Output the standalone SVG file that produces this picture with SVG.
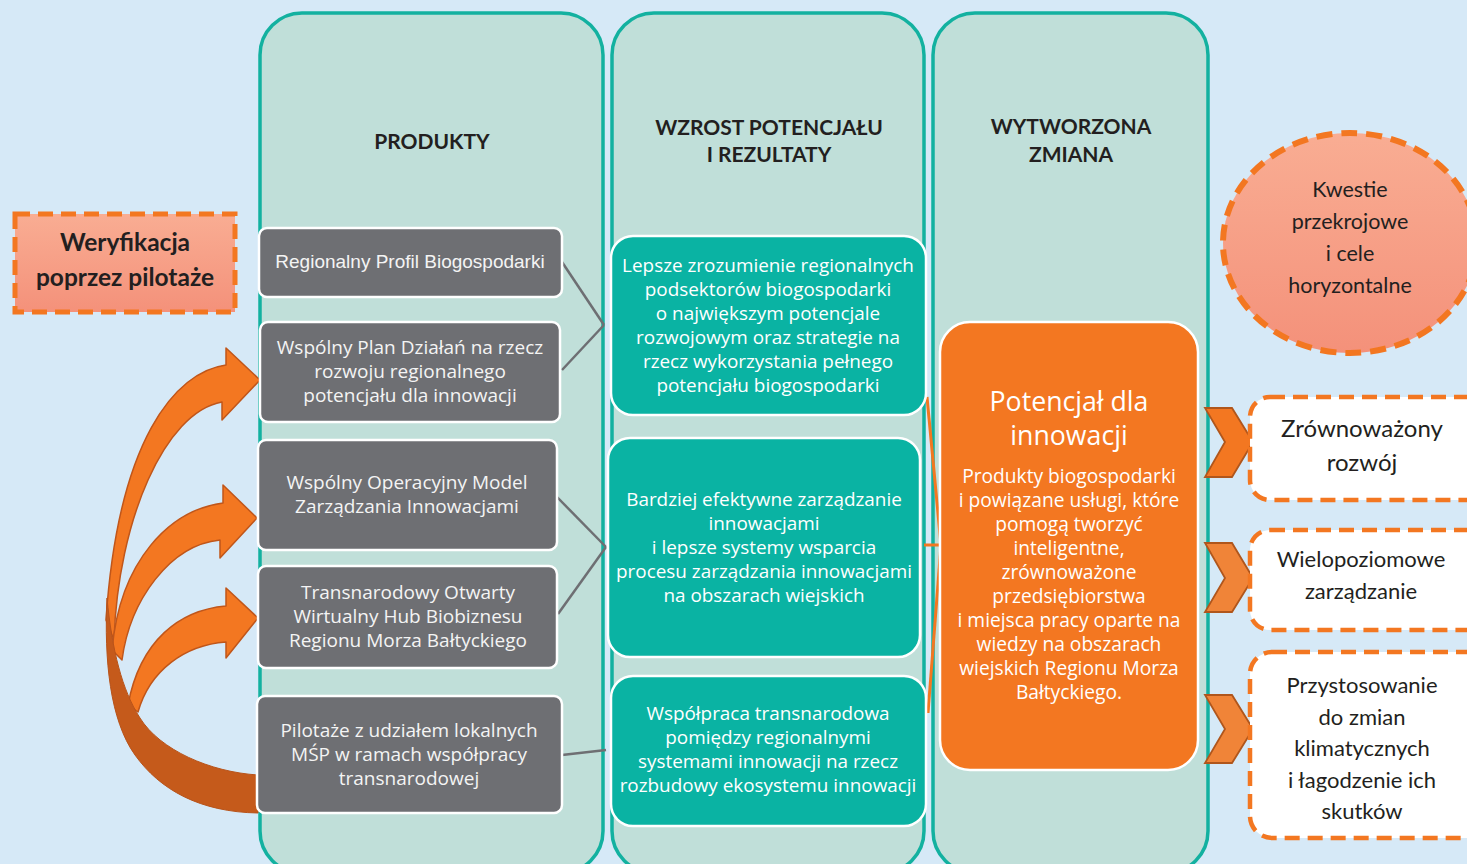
<svg xmlns="http://www.w3.org/2000/svg" width="1467" height="864" viewBox="0 0 1467 864">
<defs>
<linearGradient id="salmon" x1="0" y1="0" x2="0" y2="1">
<stop offset="0" stop-color="#f9ad93"/>
<stop offset="1" stop-color="#f4917a"/>
</linearGradient>
<style>
.col{fill:#c0dfd9;stroke:#13b1a0;stroke-width:3.5}
.gbox{fill:#6e6f73;stroke:#ffffff;stroke-width:2.5}
.tbox{fill:#0ab3a3;stroke:#ffffff;stroke-width:2.5}
.obox{fill:#f37721;stroke:#ffffff;stroke-width:2.5}
.dbox{fill:#ffffff;stroke:#f37721;stroke-width:4.5;stroke-dasharray:15 8}
.title{font-family:Lato,"Liberation Sans",sans-serif;font-weight:bold;font-size:21px;fill:#231f20;text-anchor:middle}
.gt{font-family:"Open Sans","Liberation Sans",sans-serif;font-size:19px;fill:#f4f4f4;text-anchor:middle}
.ga{font-family:"Liberation Sans",Arial,sans-serif;font-size:19px;fill:#f4f4f4;text-anchor:middle}
.tt{font-family:"Open Sans","Liberation Sans",sans-serif;font-size:18.9px;fill:#ffffff;text-anchor:middle}
.ot{font-family:"Open Sans","Liberation Sans",sans-serif;font-size:19.2px;fill:#ffffff;text-anchor:middle}
.oh{font-family:"Open Sans","Liberation Sans",sans-serif;font-size:26.7px;fill:#ffffff;text-anchor:middle}
.cal{font-family:Lato,"Liberation Sans",sans-serif;fill:#231f20;text-anchor:middle}
.wer{font-size:24.5px;font-weight:bold}
.kw{font-size:21.5px}
.r22{font-size:22px}
.r24{font-size:24px}
.arr{fill:#f37721;stroke:#c0561a;stroke-width:1.5;stroke-linejoin:round}
.chev{stroke:#b0561c;stroke-width:1.8;stroke-linejoin:miter}
.gl{stroke:#6e6f73;stroke-width:2.5;fill:none}
.ol{stroke:#f37721;stroke-width:3;fill:none}
</style>
</defs>
<rect x="0" y="0" width="1467" height="864" fill="#d6e9f7"/>

<g id="columns">
<rect class="col" x="260" y="13" width="343" height="860" rx="42"/>
<rect class="col" x="612" y="13" width="312" height="860" rx="42"/>
<rect class="col" x="933" y="13" width="275" height="860" rx="42"/>
<text class="title" x="432" y="149">PRODUKTY</text>
<text class="title" x="769" y="135">WZROST POTENCJAŁU</text>
<text class="title" x="769" y="162">I REZULTATY</text>
<text class="title" x="1071" y="134">WYTWORZONA</text>
<text class="title" x="1071" y="162">ZMIANA</text>
</g>

<g id="curved-arrows">
<path class="arr" d="M260 380 L226 348 L226 365 C175 372 118 440 106 620 L114 640 C118 520 165 412 222 402 L222 420 Z"/>
<path class="arr" d="M257 518 L223 485 L223 503 C170 510 120 560 112 650 L122 660 C130 600 170 545 220 540 L220 558 Z"/>
<path class="arr" d="M258 618 L226 588 L226 606 C180 610 140 640 128 705 L138 712 C150 670 185 645 226 642 L226 658 Z"/>
<path fill="#c55a1b" stroke="#b8531a" stroke-width="1" d="M258 775 C210 772 160 750 140 718 C122 690 112 650 107 598 C104 660 110 720 135 755 C160 790 200 812 258 813 Z"/>
</g>

<g id="connectors">
<line class="gl" x1="562" y1="262" x2="604" y2="325"/>
<line class="gl" x1="562" y1="370" x2="604" y2="325"/>
<line class="gl" x1="557" y1="497" x2="606" y2="547"/>
<line class="gl" x1="558" y1="614" x2="606" y2="547"/>
<line class="gl" x1="562" y1="755" x2="606" y2="750"/>
<line class="ol" x1="927" y1="397" x2="941" y2="545"/>
<line class="ol" x1="928" y1="713" x2="941" y2="545"/>
<line class="ol" x1="924" y1="545" x2="941" y2="545" stroke-width="4"/>
</g>

<g id="weryfikacja">
<rect x="15" y="214" width="220" height="98" fill="url(#salmon)" stroke="#f37721" stroke-width="5" stroke-dasharray="15 8"/>
<text class="cal wer" x="125" y="251">Weryfikacja</text>
<text class="cal wer" x="125" y="286">poprzez pilotaże</text>
</g>

<g id="p1">
<rect class="gbox" x="259" y="228" width="303" height="69" rx="8"/>
<text class="ga" x="410" y="268">Regionalny Profil Biogospodarki</text>
</g>
<g id="p2">
<rect class="gbox" x="260" y="322" width="300" height="100" rx="8"/>
<text class="gt" x="410" y="354">Wspólny Plan Działań na rzecz</text>
<text class="gt" x="410" y="378">rozwoju regionalnego</text>
<text class="gt" x="410" y="402">potencjału dla innowacji</text>
</g>
<g id="p3">
<rect class="gbox" x="258" y="440" width="299" height="110" rx="8"/>
<text class="gt" x="407" y="489">Wspólny Operacyjny Model</text>
<text class="gt" x="407" y="513">Zarządzania Innowacjami</text>
</g>
<g id="p4">
<rect class="gbox" x="258" y="566" width="299" height="102" rx="8"/>
<text class="gt" x="408" y="599">Transnarodowy Otwarty</text>
<text class="gt" x="408" y="623">Wirtualny Hub Biobiznesu</text>
<text class="gt" x="408" y="647">Regionu Morza Bałtyckiego</text>
</g>
<g id="p5">
<rect class="gbox" x="257" y="696" width="305" height="117" rx="8"/>
<text class="gt" x="409" y="737">Pilotaże z udziałem lokalnych</text>
<text class="gt" x="409" y="761">MŚP w ramach współpracy</text>
<text class="gt" x="409" y="785">transnarodowej</text>
</g>

<g id="r1">
<rect class="tbox" x="611" y="236" width="315" height="179" rx="22"/>
<text class="tt" x="768" y="272">Lepsze zrozumienie regionalnych</text>
<text class="tt" x="768" y="296">podsektorów biogospodarki</text>
<text class="tt" x="768" y="320">o największym potencjale</text>
<text class="tt" x="768" y="344">rozwojowym oraz strategie na</text>
<text class="tt" x="768" y="368">rzecz wykorzystania pełnego</text>
<text class="tt" x="768" y="392">potencjału biogospodarki</text>
</g>
<g id="r2">
<rect class="tbox" x="608" y="438" width="312" height="219" rx="22"/>
<text class="tt" x="764" y="506">Bardziej efektywne zarządzanie</text>
<text class="tt" x="764" y="530">innowacjami</text>
<text class="tt" x="764" y="554">i lepsze systemy wsparcia</text>
<text class="tt" x="764" y="578">procesu zarządzania innowacjami</text>
<text class="tt" x="764" y="602">na obszarach wiejskich</text>
</g>
<g id="r3">
<rect class="tbox" x="611" y="676" width="315" height="150" rx="22"/>
<text class="tt" x="768" y="720">Współpraca transnarodowa</text>
<text class="tt" x="768" y="744">pomiędzy regionalnymi</text>
<text class="tt" x="768" y="768">systemami innowacji na rzecz</text>
<text class="tt" x="768" y="792">rozbudowy ekosystemu innowacji</text>
</g>

<g id="potencjal">
<rect class="obox" x="940" y="322" width="258" height="448" rx="30"/>
<text class="oh" x="1069" y="411">Potencjał dla</text>
<text class="oh" x="1069" y="445">innowacji</text>
<text class="ot" x="1069" y="483">Produkty biogospodarki</text>
<text class="ot" x="1069" y="507">i powiązane usługi, które</text>
<text class="ot" x="1069" y="531">pomogą tworzyć</text>
<text class="ot" x="1069" y="555">inteligentne,</text>
<text class="ot" x="1069" y="579">zrównoważone</text>
<text class="ot" x="1069" y="603">przedsiębiorstwa</text>
<text class="ot" x="1069" y="627">i miejsca pracy oparte na</text>
<text class="ot" x="1069" y="651">wiedzy na obszarach</text>
<text class="ot" x="1069" y="675">wiejskich Regionu Morza</text>
<text class="ot" x="1069" y="699">Bałtyckiego.</text>
</g>

<g id="kwestie">
<ellipse cx="1350" cy="243" rx="127" ry="110" fill="url(#salmon)" stroke="#f37721" stroke-width="6" stroke-dasharray="16 9"/>
<text class="cal kw" x="1350" y="197">Kwestie</text>
<text class="cal kw" x="1350" y="229">przekrojowe</text>
<text class="cal kw" x="1350" y="261">i cele</text>
<text class="cal kw" x="1350" y="293">horyzontalne</text>
</g>

<g id="chevrons">
<polygon class="chev" fill="#f37721" points="1205,408 1232,408 1253,442 1232,477 1205,477 1225,442"/>
<polygon class="chev" fill="#f08438" points="1205,543 1232,543 1253,578 1232,612 1205,612 1225,578"/>
<polygon class="chev" fill="#f08438" points="1205,695 1232,695 1253,729 1232,763 1205,763 1225,729"/>
</g>

<g id="zrownowazony">
<rect class="dbox" x="1250" y="397" width="240" height="103" rx="20"/>
<text class="cal r24" x="1362" y="437">Zrównoważony</text>
<text class="cal r24" x="1362" y="471">rozwój</text>
</g>
<g id="wielopoziomowe">
<rect class="dbox" x="1250" y="530" width="240" height="100" rx="20"/>
<text class="cal r22" x="1361" y="567">Wielopoziomowe</text>
<text class="cal r22" x="1361" y="599">zarządzanie</text>
</g>
<g id="przystosowanie">
<rect class="dbox" x="1250" y="652" width="240" height="186" rx="22"/>
<text class="cal r22" x="1362" y="693">Przystosowanie</text>
<text class="cal r22" x="1362" y="725">do zmian</text>
<text class="cal r22" x="1362" y="756">klimatycznych</text>
<text class="cal r22" x="1362" y="788">i łagodzenie ich</text>
<text class="cal r22" x="1362" y="819">skutków</text>
</g>
</svg>
